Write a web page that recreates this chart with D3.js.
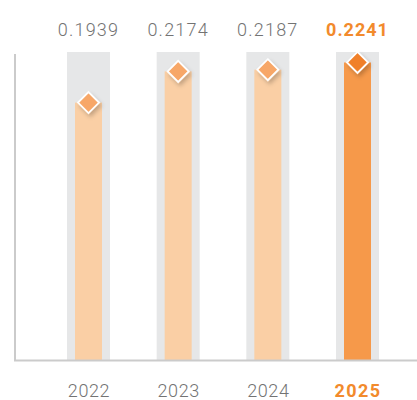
<!DOCTYPE html>
<html><head><meta charset="utf-8">
<script src="https://cdn.jsdelivr.net/npm/d3@7"></script>
<style>html,body{margin:0;padding:0;background:#fff;}svg{display:block;}</style>
</head><body>
<svg id="c" width="417" height="400"></svg>
<script>
const categories = ["2022", "2023", "2024", "2025"];
const values = [0.1939, 0.2174, 0.2187, 0.2241];
const valueLabels = ["0.1939", "0.2174", "0.2187", "0.2241"];
const highlight = "2025";

const svg = d3.select("#c");
const defs = svg.append("defs");
const f = defs.append("filter").attr("id","sh").attr("x","-50%").attr("y","-50%").attr("width","200%").attr("height","200%");
f.append("feDropShadow").attr("dx",2).attr("dy",3).attr("stdDeviation",2).attr("flood-color","#000").attr("flood-opacity",0.22);

const x = d3.scalePoint().domain(categories).range([88.5, 357.5]);
const y = d3.scaleLinear().domain([0, 0.232]).range([360, 52]);

const cx = d => x(d);
const bgW = 43, barW = 27;
const font = "Roboto, 'Liberation Sans', Arial, sans-serif";

const g = svg.append("g");
g.selectAll("rect.bg").data(categories).join("rect")
  .attr("x", d => cx(d) - bgW/2).attr("width", bgW)
  .attr("y", y(0.232)).attr("height", y(0) - y(0.232))
  .attr("fill", "#e6e7e8");
g.selectAll("rect.bar").data(categories).join("rect")
  .attr("x", d => cx(d) - barW/2).attr("width", barW)
  .attr("y", (d,i) => y(values[i])).attr("height", (d,i) => y(0) - y(values[i]))
  .attr("fill", d => d === highlight ? "#f6994a" : "#facfa5");
const yAxis = svg.append("g").attr("transform","translate(15,0)")
  .call(d3.axisLeft(y).tickValues([]).tickSizeOuter(0));
yAxis.select(".domain").attr("stroke","#cbcbcb").attr("stroke-width",2).attr("d","M0,54V361");
const xAxis = svg.append("g").attr("transform","translate(0,360.5)")
  .call(d3.axisBottom(x).tickSize(0).tickPadding(0));
xAxis.select(".domain").attr("stroke","#cbcbcb").attr("stroke-width",2).attr("d","M14,0H417");
xAxis.selectAll("text")
  .attr("font-family", font).attr("font-size",18)
  .attr("fill", d => d === highlight ? "#f28a2c" : "#737373")
  .attr("font-weight", d => d === highlight ? "bold" : 300)
  .attr("letter-spacing", d => d === highlight ? 1.4 : 0.6)
  .attr("y", 36.5).attr("dy", null);
const s = 10.5;
g.selectAll("path.dm").data(categories).join("path")
  .attr("d", (d,i) => { const X = cx(d), Y = y(values[i]); return `M${X},${Y-s}L${X+s},${Y}L${X},${Y+s}L${X-s},${Y}Z`; })
  .attr("fill", d => d === highlight ? "#f0802a" : "#f7a768")
  .attr("stroke","#fff").attr("stroke-width",1.8)
  .attr("filter","url(#sh)");
svg.selectAll("text.val").data(categories).join("text")
  .attr("x", d => cx(d)).attr("y", 36)
  .attr("text-anchor","middle")
  .attr("font-family", font).attr("font-size",18)
  .attr("fill", d => d === highlight ? "#f28a2c" : "#737373")
  .attr("font-weight", d => d === highlight ? "bold" : 300)
  .attr("letter-spacing", d => d === highlight ? 1.0 : 1.2)
  .text((d,i) => valueLabels[i]);
</script>
</body></html>
